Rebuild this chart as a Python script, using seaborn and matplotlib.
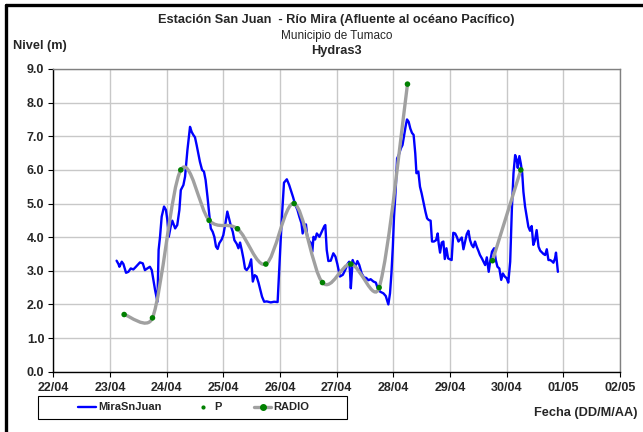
import numpy as np
import matplotlib
matplotlib.use("Agg")
import matplotlib.pyplot as plt
from matplotlib.path import Path
from matplotlib.patches import PathPatch, Rectangle
from matplotlib.lines import Line2D
import seaborn as sns

# Water level at San Juan (hours counted from 22/04 00:00)
mira_hours = [26.8, 27.6, 28.0, 29.0, 29.7, 30.8, 31.8, 32.8, 33.9, 35.0, 36.7, 37.9, 38.8,
              39.8, 40.9, 41.7, 42.4, 43.1, 44.1, 44.6, 45.2, 45.9, 46.9, 47.7, 48.3, 48.9,
              49.7, 50.4, 51.6, 52.5, 53.4, 54.0, 55.1, 55.8, 56.8, 57.9, 58.6, 59.3, 60.0,
              60.7, 61.4, 62.1, 63.0, 63.8, 64.5, 65.3, 66.0, 66.7, 67.5, 68.2, 68.9, 69.6,
              70.3, 71.3, 72.0, 72.9, 73.7, 74.6, 75.3, 76.0, 76.7, 77.7, 78.4, 79.1, 79.8,
              80.5, 81.2, 81.9, 82.9, 83.8, 84.5, 85.3, 86.1, 86.9, 87.7, 88.4, 89.3, 90.4,
              92.1, 93.5, 95.0, 95.6, 96.3, 97.0, 97.7, 98.9, 99.9, 100.7, 101.5, 102.4,
              103.4, 104.2, 105.1, 105.6, 106.3, 107.0, 107.6, 108.5, 109.0, 109.7, 110.2,
              110.9, 111.6, 112.7, 113.7, 114.8, 115.2, 115.8, 116.5, 117.5, 118.6, 119.5,
              120.3, 121.4, 122.6, 123.6, 124.6, 125.3, 125.7, 126.0, 126.4, 126.8, 127.4,
              128.1, 128.8, 129.6, 130.6, 131.6, 132.5, 133.5, 134.4, 135.6, 136.6, 137.4,
              138.4, 139.8, 140.8, 141.9, 142.6, 143.2, 143.8, 144.3, 145.0, 145.6, 146.3,
              147.2, 147.9, 148.6, 149.3, 149.8, 150.5, 151.2, 151.9, 152.6, 153.3, 153.8,
              154.6, 155.3, 156.0, 156.7, 157.6, 158.3, 159.0, 159.8, 160.4, 161.2, 162.1,
              162.8, 163.2, 163.8, 164.5, 165.2, 165.8, 166.5, 167.2, 168.0, 168.7, 169.4,
              170.2, 170.9, 171.6, 172.3, 173.0, 173.7, 174.4, 175.1, 175.8, 176.5, 177.2,
              177.9, 178.6, 179.3, 180.0, 180.7, 181.5, 182.2, 182.9, 183.6, 184.4, 185.0,
              185.8, 186.7, 187.4, 188.1, 188.9, 189.7, 190.4, 191.2, 192.0, 192.7, 193.5,
              194.2, 194.9, 195.6, 196.3, 196.7, 197.4, 198.0, 198.6, 199.1, 199.8, 200.5,
              201.2, 201.9, 202.6, 203.3, 204.0, 204.7, 205.5, 206.2, 206.9, 207.6, 208.3,
              209.0, 209.7, 210.4, 211.1, 211.8, 212.5, 212.9, 213.7]
mira_level = [3.30, 3.20, 3.12, 3.27, 3.20, 2.94, 2.97, 3.07, 3.04, 3.12, 3.25, 3.22, 3.02,
              3.07, 3.12, 3.02, 2.73, 2.43, 2.08, 3.62, 4.01, 4.61, 4.91, 4.81, 4.51, 4.01,
              4.31, 4.49, 4.26, 4.36, 4.81, 5.40, 5.55, 5.80, 6.59, 7.28, 7.13, 7.04, 6.97,
              6.74, 6.49, 6.24, 6.00, 5.95, 5.70, 5.20, 4.71, 4.26, 4.16, 4.01, 3.72, 3.65,
              3.82, 3.93, 4.06, 4.41, 4.76, 4.51, 4.31, 4.16, 3.91, 3.80, 3.67, 3.84, 3.62,
              3.37, 3.07, 3.02, 3.12, 3.34, 2.68, 2.87, 2.83, 2.65, 2.43, 2.23, 2.08, 2.09,
              2.06, 2.08, 2.07, 2.93, 3.91, 4.81, 5.62, 5.72, 5.55, 5.38, 5.20, 4.98,
              4.81, 4.61, 4.41, 4.11, 4.31, 4.38, 4.01, 3.87, 3.84, 3.57, 4.01,
              3.93, 4.11, 4.01, 4.16, 4.33, 4.36, 3.62, 3.29, 3.30, 3.52, 3.42,
              3.20, 2.83, 2.88, 3.02, 3.20, 3.27, 2.92, 2.48, 2.92, 3.32, 3.20,
              3.17, 3.29, 3.17, 2.92, 2.80, 2.79, 2.72, 2.75, 2.68, 2.65, 2.48,
              2.38, 2.33, 2.25, 2.00, 2.33, 2.92, 3.72, 4.61, 5.40, 6.34, 6.44,
              6.64, 6.74, 7.04, 7.33, 7.50, 7.43, 7.23, 7.10, 7.04, 6.49, 5.90,
              5.95, 5.50, 5.30, 5.06, 4.76, 4.56, 4.51, 4.49, 3.87, 3.87, 3.91,
              4.11, 3.82, 3.54, 3.84, 3.87, 3.35, 3.67, 3.37, 3.34, 3.32, 4.13,
              4.11, 4.01, 3.87, 3.93, 3.99, 3.64, 3.87, 4.09, 4.19, 3.91, 3.77,
              3.70, 3.87, 3.72, 3.60, 3.47, 3.37, 3.27, 3.17, 3.40, 2.97, 3.27,
              3.57, 3.67, 3.32, 3.12, 3.07, 2.73, 2.92, 2.83, 2.78, 2.65, 3.27,
              4.81, 5.90, 6.44, 6.29, 6.06, 6.41, 6.19, 5.90, 5.35, 4.91, 4.61,
              4.31, 4.19, 4.33, 3.77, 3.91, 4.21, 3.72, 3.60, 3.55, 3.50, 3.47,
              3.64, 3.32, 3.32, 3.29, 3.24, 3.37, 3.54, 2.97]

# Radar gauge readings, two separate runs
radio_hours_a = [30, 42, 54, 66, 78, 90, 102, 114, 126, 138, 150]
radio_level_a = [1.7, 1.6, 6.0, 4.5, 4.25, 3.2, 5.0, 2.65, 3.2, 2.5, 8.55]
radio_hours_b = [186, 198]
radio_level_b = [3.3, 6.0]

day_labels = ["22/04", "23/04", "24/04", "25/04", "26/04", "27/04",
              "28/04", "29/04", "30/04", "01/05", "02/05"]
level_ticks = [0.0, 1.0, 2.0, 3.0, 4.0, 5.0, 6.0, 7.0, 8.0, 9.0]

sns.set_style("white")
plt.rcParams["font.family"] = ["Liberation Sans", "DejaVu Sans"]

W, H = 643, 432
fig = plt.figure(figsize=(W / 100, H / 100), dpi=100)
ax = fig.add_axes([0.0829, 0.1396, 0.8813, 0.7007])

ax.set_xlim(0, 24 * (len(day_labels) - 1))
ax.set_ylim(level_ticks[0], level_ticks[-1])
ax.set_xticks([24 * i for i in range(len(day_labels))])
ax.set_xticklabels(day_labels)
ax.set_yticks(level_ticks)
ax.set_yticklabels([f"{v:.1f}" for v in level_ticks])
ax.grid(True, color="#c8c8c8", lw=1.0)
ax.set_axisbelow(True)

for side in ("left", "bottom"):
    ax.spines[side].set_color("black")
    ax.spines[side].set_linewidth(1.0)
for side in ("top", "right"):
    ax.spines[side].set_color("#808080")
    ax.spines[side].set_linewidth(1.0)

ax.tick_params(axis="both", which="major", direction="out", length=3.5, width=0.8,
               color="black", labelsize=9, pad=3, left=True, bottom=True)
for lbl in ax.get_xticklabels() + ax.get_yticklabels():
    lbl.set_fontweight("bold")
ax.tick_params(axis="x", pad=4)

sns.lineplot(x=mira_hours, y=mira_level, color="#0000ff", lw=1.7,
             estimator=None, sort=False, ax=ax, legend=False, zorder=3)


def excel_smooth(xs, ys):
    """Bezier path through the points, with handle lengths capped in screen space."""
    pts = np.column_stack([xs, ys]).astype(float)
    scr = ax.transData.transform(pts)
    n = len(pts)
    verts = [pts[0]]
    codes = [Path.MOVETO]
    for i in range(n - 1):
        i0 = max(i - 1, 0)
        i3 = min(i + 2, n - 1)
        seg = np.linalg.norm(scr[i + 1] - scr[i])
        h1 = (scr[i + 1] - scr[i0]) / 6.0
        h2 = (scr[i3] - scr[i]) / 6.0
        f1 = min(1.0, (seg / 2.0) / max(np.linalg.norm(h1), 1e-9))
        f2 = min(1.0, (seg / 2.0) / max(np.linalg.norm(h2), 1e-9))
        c1 = pts[i] + f1 * (pts[i + 1] - pts[i0]) / 6.0
        c2 = pts[i + 1] - f2 * (pts[i3] - pts[i]) / 6.0
        verts += [c1, c2, pts[i + 1]]
        codes += [Path.CURVE4] * 3
    return Path(verts, codes)


for hx, lv in ((radio_hours_a, radio_level_a), (radio_hours_b, radio_level_b)):
    ax.add_patch(PathPatch(excel_smooth(hx, lv), facecolor="none",
                           edgecolor="#a0a0a0", lw=2.4, zorder=4, capstyle="round"))
    sns.scatterplot(x=hx, y=lv, color="#008000", s=16, edgecolor="none",
                    ax=ax, legend=False, zorder=5)
    sns.scatterplot(x=hx, y=lv, color="#008000", s=4, edgecolor="none",
                    ax=ax, legend=False, zorder=6)

ax.set_xlabel("")
ax.set_ylabel("")

cx = 0.5237
fig.text(cx, 1 - 20 / H, "Estación San Juan  - Río Mira (Afluente al océano Pacífico)",
         ha="center", va="center", fontsize=9.2, fontweight="bold")
fig.text(cx, 1 - 36 / H, "Municipio de Tumaco", ha="center", va="center", fontsize=8.5)
fig.text(cx, 1 - 51 / H, "Hydras3", ha="center", va="center", fontsize=9.2, fontweight="bold")
fig.text(13 / W, 1 - 46 / H, "Nivel (m)", ha="left", va="center", fontsize=9.2,
         fontweight="bold")
fig.text(637 / W, 1 - 413 / H, "Fecha (DD/M/AA)", ha="right", va="center", fontsize=9.2,
         fontweight="bold")

handles = [
    Line2D([], [], color="#0000ff", lw=1.7),
    Line2D([], [], color="#008000", marker="o", markersize=2, linestyle="none"),
    Line2D([], [], color="#a0a0a0", lw=2.4, marker="o", markersize=4,
           markerfacecolor="#008000", markeredgecolor="#008000"),
]
leg = fig.legend(handles, ["MiraSnJuan", "P", "RADIO"], loc="center",
                 bbox_to_anchor=(194 / W, 1 - 407.5 / H), ncol=3, frameon=False,
                 handlelength=1.6, handletextpad=0.2, columnspacing=2.9,
                 fontsize=8, borderpad=0, borderaxespad=0)
for t in leg.get_texts():
    t.set_fontweight("bold")

# Legend box and outer frame edges
fig.add_artist(Rectangle((38 / W, 1 - 419 / H), (347 - 38) / W, 23 / H, fill=False,
                         edgecolor="black", lw=0.8, transform=fig.transFigure))
fig.add_artist(Line2D([5.5 / W, 5.5 / W], [0, 1 - 4.5 / H], color="black", lw=2.4,
                      transform=fig.transFigure))
fig.add_artist(Line2D([5.5 / W, 1], [1 - 4.5 / H, 1 - 4.5 / H], color="black", lw=2.4,
                      transform=fig.transFigure))

fig.savefig("out.png", dpi=100)
